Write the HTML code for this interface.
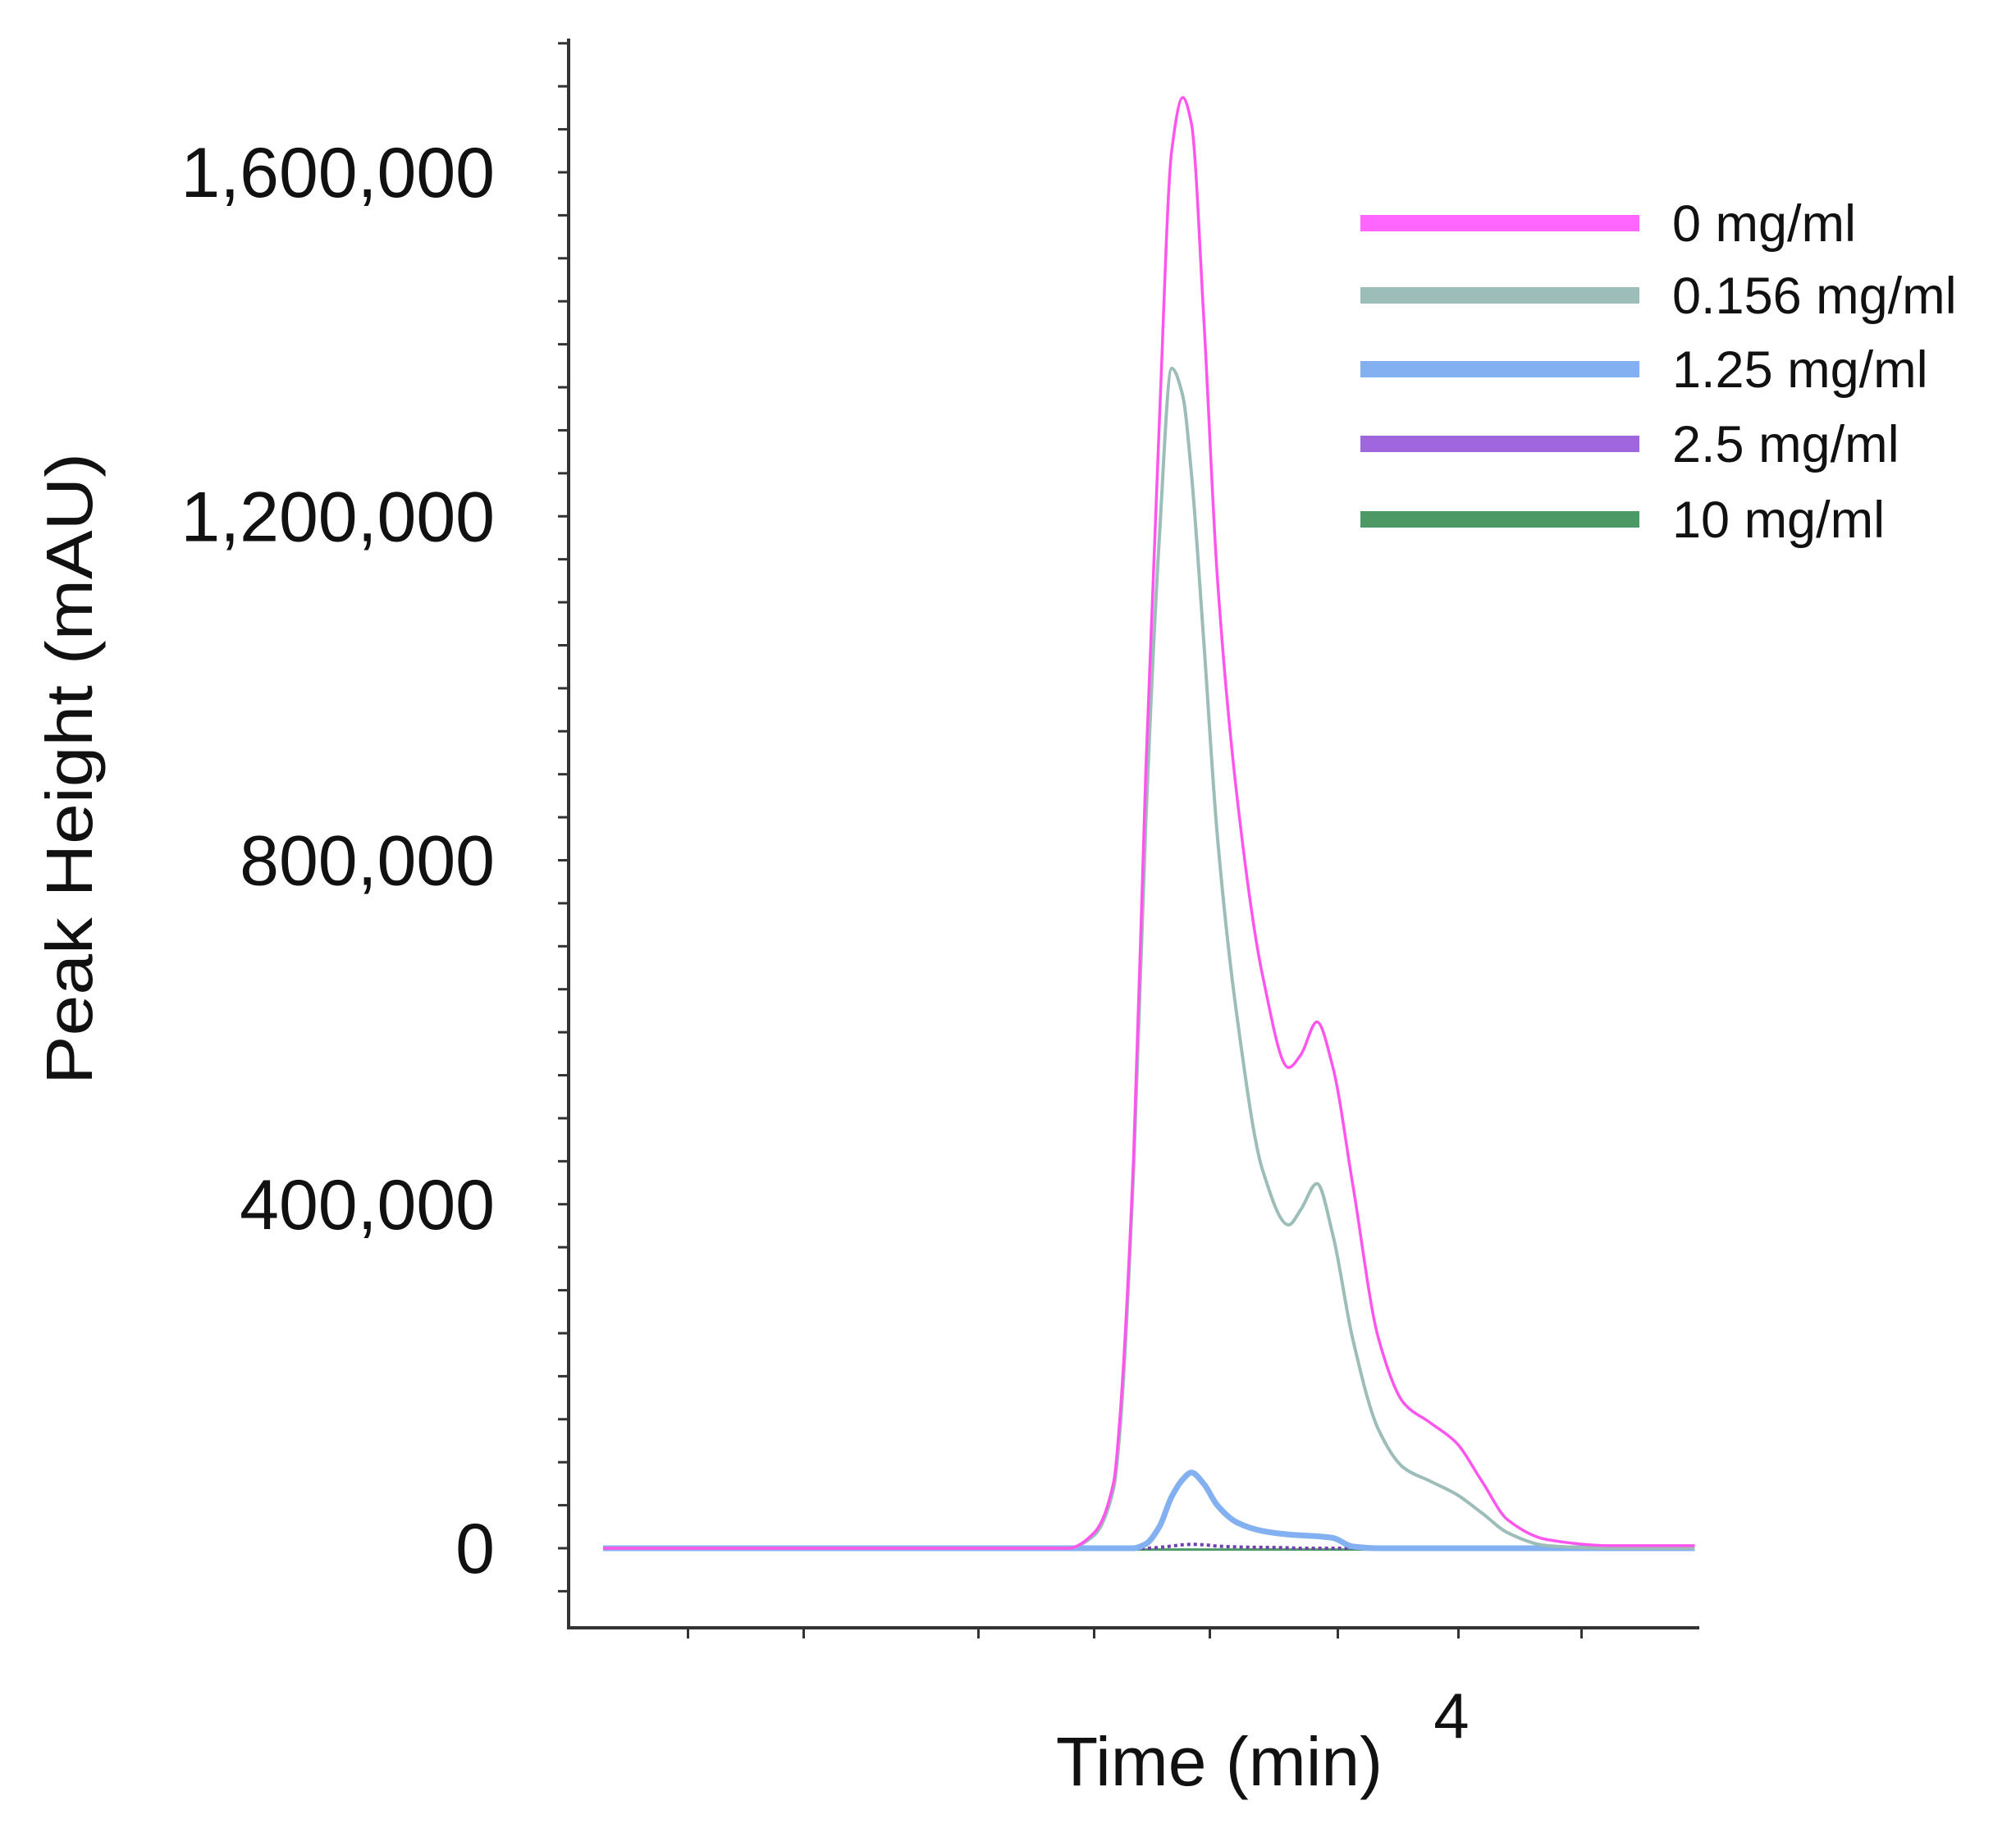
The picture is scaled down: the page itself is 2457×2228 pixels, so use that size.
<!DOCTYPE html>
<html><head><meta charset="utf-8"><style>
html,body{margin:0;padding:0;background:#fff;}
svg{display:block;font-family:"Liberation Sans",sans-serif;}
</style></head><body>
<svg id="chart" width="2457" height="2228" viewBox="0 0 2457 2228" xmlns="http://www.w3.org/2000/svg">
<rect width="2457" height="2228" fill="#fff"/>
<g id="axes"></g>
<g id="series"></g>
<g id="legend"></g>
</svg>
<script>
const times=[3.304,3.682,3.703,3.719,3.724,3.735,3.745,3.756,3.766,3.775,3.782,3.792,3.803,3.819,3.840,3.861,3.871,3.884,3.897,3.913,3.934,3.955,3.976,3.997,4.018,4.039,4.071,4.123,4.191];
const s0=[0,0,18000,78000,153000,454000,905000,1311000,1625000,1687000,1657000,1432000,1131000,875000,665000,559000,574000,612000,559000,424000,244000,168000,146000,123000,78000,33000,10000,3000,3000];
const s0156=[0,0,15000,71000,138000,439000,845000,1176000,1372000,1340000,1250000,1056000,830000,619000,439000,376000,394000,424000,364000,244000,138000,93000,78000,63000,41000,18000,3000,0,0];
const s125=[0,0,0,0,0,0,5000,25000,60000,80000,88000,75000,50000,30000,20000,16000,15000,14000,12000,2000,0,0,0,0,0,0,0,0,0];
const s25=[0,0,0,0,0,0,0,1000,2500,4000,4500,4000,2500,1500,1000,500,0,0,0,0,0,0,0,0,0,0,0,0,0];
const s10=[-1500,-1500,-1500,-1500,-1500,-1500,-1500,-1500,-1500,-1500,-1500,-1500,-1500,-1500,-1500,-1500,-1500,-1500,-1500,-1500,-1500,-1500,-1500,-1500,-1500,-1500,-1500,-1500,-1500];
const seriesNames=["0 mg/ml","0.156 mg/ml","1.25 mg/ml","2.5 mg/ml","10 mg/ml"];
const yTickValues=[0,400000,800000,1200000,1600000];
const yTickLabels=["0","400,000","800,000","1,200,000","1,600,000"];
const xTickValues=[3.373,3.467,3.609,3.703,3.797,3.901,3.999,4.099];
const xLabelValues=[4];
const xLabels=["4"];

const NS="http://www.w3.org/2000/svg";
const X0=693,X1=2071,Y0=47,Y1=1984;
const xs=t=>1779+(t-4)*1500;
const ys=v=>1887-v*(419.25/400000);
function mk(tag,attrs,parent){const e=document.createElementNS(NS,tag);for(const k in attrs)e.setAttribute(k,attrs[k]);parent.appendChild(e);return e;}
const axes=document.getElementById('axes');
let yl=mk('line',{x1:X0,y1:Y0,x2:X0,y2:Y1,stroke:'#333',"stroke-width":4},axes);


let xl=mk('line',{x1:X0-2,y1:Y1,x2:X1,y2:Y1,stroke:'#333',"stroke-width":4},axes);


for(let v=-50000;v<=1750000;v+=50000){
  let t=mk('line',{x1:X0-13,y1:ys(v),x2:X0,y2:ys(v),stroke:'#333',"stroke-width":3},axes);
  
  
}
yTickValues.forEach((v,i)=>{
  let t=mk('text',{x:603,y:ys(v)+30,"text-anchor":"end","font-size":86,fill:'#111'},axes);
  t.textContent=yTickLabels[i];
  
  
});
xTickValues.forEach(v=>{
  let t=mk('line',{x1:xs(v),y1:Y1,x2:xs(v),y2:Y1+13,stroke:'#333',"stroke-width":3},axes);
  
  
});
xLabelValues.forEach((v,i)=>{
  let t=mk('text',{x:xs(v)-10,y:2118,"text-anchor":"middle","font-size":78,fill:'#111'},axes);
  t.textContent=xLabels[i];
  
  
});
let xt=mk('text',{x:1486,y:2176,"text-anchor":"middle","font-size":84,fill:'#111'},axes);
xt.textContent='Time (min)';


let yt=mk('text',{x:0,y:0,"text-anchor":"middle","font-size":80,fill:'#111',transform:'translate(112,937) rotate(-90)',textLength:770,lengthAdjust:'spacingAndGlyphs'},axes);
yt.textContent='Peak Height (mAU)';



function path(vals){
  const p=times.map((t,i)=>[xs(t),ys(vals[i])]);
  const n=p.length,dl=[],m=new Array(n);
  for(let i=0;i<n-1;i++)dl.push((p[i+1][1]-p[i][1])/(p[i+1][0]-p[i][0]));
  m[0]=dl[0];m[n-1]=dl[n-2];
  for(let i=1;i<n-1;i++){
    if(dl[i-1]*dl[i]<=0)m[i]=0;
    else{const h0=p[i][0]-p[i-1][0],h1=p[i+1][0]-p[i][0];const w1=2*h1+h0,w2=h1+2*h0;m[i]=(w1+w2)/(w1/dl[i-1]+w2/dl[i]);}
  }
  let d=`M${p[0][0]},${p[0][1]}`;
  for(let i=0;i<n-1;i++){
    const h=(p[i+1][0]-p[i][0])/3;
    d+=` C${p[i][0]+h},${p[i][1]+m[i]*h} ${p[i+1][0]-h},${p[i+1][1]-m[i+1]*h} ${p[i+1][0]},${p[i+1][1]}`;
  }
  return d;
}
const sg=document.getElementById('series');
const defs=[[s10,'#4d9966',3,null],[s25,'#7040b0',4,'4 4'],[s125,'#82b0f0',7,null],[s0156,'#9dbdb9',4,null],[s0,'#ff55ee',3.5,null]];
const names=['series-10','series-2-5','series-1-25','series-0-156','series-0'];
defs.forEach((d,i)=>{
  const a={d:path(d[0]),fill:'none',stroke:d[1],"stroke-width":d[2]};
  if(d[3])a["stroke-dasharray"]=d[3];
  let e=mk('path',a,sg);
  
  
});
const lg=document.getElementById('legend');
const lcol=['#ff66ff','#9dbdb9','#82b0f0','#a066dd','#4d9966'];
const lyy=[272,360,450,541,633];
seriesNames.forEach((n,i)=>{
  let g=mk('g',{},lg);
  
  
  mk('rect',{x:1658,y:lyy[i]-10,width:340,height:20,fill:lcol[i]},g);
  let t=mk('text',{x:2038,y:lyy[i]+22,"font-size":63,fill:'#111'},g);
  t.textContent=n;
});
</script>
</body></html>
